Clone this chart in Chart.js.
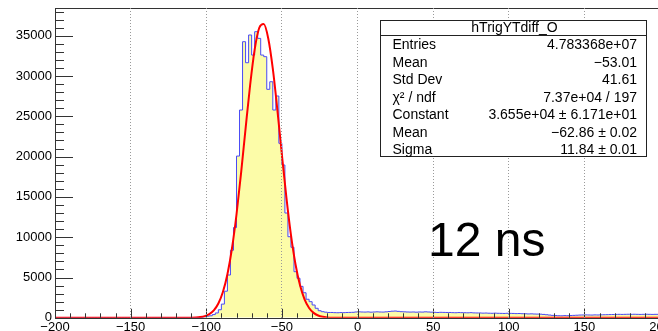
<!DOCTYPE html>
<html>
<head>
<meta charset="utf-8">
<script src="https://cdn.jsdelivr.net/npm/chart.js@4.4.1/dist/chart.umd.min.js"></script>
<style>
  html, body { margin: 0; padding: 0; background: #fff; overflow: hidden; }
  #wrap { width: 658px; height: 331px; overflow: hidden; }
</style>
</head>
<body>
<div id="wrap"><canvas id="c" width="664" height="331"></canvas></div>
<script>
// histogram hTrigYTdiff_O : 200 bins of width 2 from -200 to 200
const binLow = -200;
const binWidth = 2;
const counts = [
  // -200 .. -108
  0, 0, 0, 0, 0, 0, 0, 0, 0, 0, 0, 0, 0, 0, 0, 0, 0, 0, 0, 0,
  0, 0, 0, 0, 0, 0, 0, 0, 0, 0, 0, 0, 0, 0, 0, 0, 0, 0, 0, 0,
  0, 0, 0, 0, 0, 0, 0,
  // -106 .. -20
  30, 60, 120, 200, 250, 400, 600, 1000, 1700, 3300,
  5310, 8380, 11200, 20070, 25780, 34260, 31650, 35090, 32600, 35500,
  34670, 32600, 32400, 28350, 29290, 25780, 27520, 21650, 18960, 13000,
  10060, 8750, 5720, 4900, 3900, 3110, 2300, 2000, 1590, 1180,
  880, 760, 700, 660,
  // -18 .. 198
  660, 640, 630, 650, 640, 660, 670, 680, 720,
  740, 720, 710, 730, 700, 720, 740, 720, 710, 740,
  780, 820, 840, 800, 760, 740, 720, 710, 720, 700,
  720, 710, 740, 720, 700, 680, 660, 680, 670, 660,
  660, 640, 630, 650, 640, 630, 620, 640, 610, 600,
  600, 580, 590, 570, 560, 580, 560, 550, 540, 560,
  550, 540, 520, 530, 510, 500, 480, 490, 470, 460,
  450, 420, 380, 340, 300, 280, 260, 250, 270, 260,
  280, 300, 320, 340, 350, 360, 350, 340, 360, 350,
  370, 380, 390, 400, 410, 420, 430, 420, 430, 440,
  430, 440, 430, 420, 430, 440, 430, 420, 430, 430
];

// gaussian fit curve
const fitX = [-200, -120, -113, -110, -107, -104, -101, -98, -95, -92, -89, -86, -83, -80, -77, -74, -71, -68, -65, -62,
  -59, -56, -53, -50, -47, -44, -41, -38, -35, -32, -29, -26, -23, -20, -17, -10, 200];
const fitY = [0, 0.3, 4.6, 13, 35, 87, 204, 447, 918, 1769, 3196, 5413, 8600, 12818, 17913, 23480, 28856, 33265, 35958, 36454,
  34657, 30904, 25841, 20263, 14905, 10278, 6648, 4032, 2295, 1224, 612, 287, 126, 52, 20, 1, 0];

const xTicksMin = -200, xTicksMax = 200, xStep = 50, xMinorStep = 10;
const yMax = 38440, yStep = 5000, yMinorStep = 1000;
const yTickValues = [0, 5000, 10000, 15000, 20000, 25000, 30000, 35000];

const statsTitle = 'hTrigYTdiff_O';
const statNames = ['Entries', 'Mean', 'Std Dev', 'χ² / ndf', 'Constant', 'Mean', 'Sigma'];
const statValues = ['4.783368e+07', '−53.01', '41.61', '7.37e+04 / 197', '3.655e+04 ± 6.171e+01', '−62.86 ± 0.02', '11.84 ± 0.01'];
const noteText = '12 ns';

const FONT = "'Liberation Sans', Arial, Helvetica, sans-serif";

const histPoints = counts.map((c, i) => ({ x: binLow + i * binWidth, y: c }));
histPoints.push({ x: binLow + counts.length * binWidth, y: counts[counts.length - 1] });
const fitPoints = fitX.map((x, i) => ({ x: x, y: fitY[i] }));

// ROOT-like frame, inward ticks, stats box and text
const rootStyle = {
  id: 'rootStyle',
  afterDatasetsDraw(chart) {
    const { ctx, chartArea: a, scales: { x, y } } = chart;
    ctx.save();
    ctx.strokeStyle = '#333';
    ctx.lineWidth = 1;
    ctx.beginPath();
    for (let v = 0; v <= yMax; v += yMinorStep) {
      const py = Math.round(y.getPixelForValue(v)) + 0.5;
      const len = v % yStep === 0 ? 18 : 9;
      ctx.moveTo(a.left, py);
      ctx.lineTo(a.left + len, py);
    }
    for (let v = xTicksMin; v <= xTicksMax; v += xMinorStep) {
      const px = Math.round(x.getPixelForValue(v)) + 0.5;
      const len = v % xStep === 0 ? 9 : 4.5;
      ctx.moveTo(px, a.bottom);
      ctx.lineTo(px, a.bottom - len);
    }
    ctx.stroke();
    ctx.strokeRect(Math.round(a.left) + 0.5, Math.round(a.top) + 0.5,
      Math.round(a.right - a.left), Math.round(a.bottom - a.top));
    ctx.restore();
  },
  afterDraw(chart) {
    const { ctx } = chart;
    ctx.save();
    // stats box
    const bx = 380.5, by = 20.5, bw = 266, bh = 136;
    ctx.fillStyle = '#fff';
    ctx.fillRect(bx, by, bw, bh);
    ctx.strokeStyle = '#222';
    ctx.lineWidth = 1;
    ctx.strokeRect(bx, by, bw, bh);
    ctx.beginPath();
    ctx.moveTo(bx, 35.5);
    ctx.lineTo(bx + bw, 35.5);
    ctx.stroke();
    ctx.fillStyle = '#000';
    ctx.font = '14px ' + FONT;
    ctx.textBaseline = 'middle';
    ctx.textAlign = 'center';
    ctx.fillText(statsTitle, bx + bw / 2 + 1, 28);
    statNames.forEach((name, i) => {
      const ty = 45.5 + i * 17.5;
      ctx.textAlign = 'left';
      ctx.fillText(name, 392.5, ty);
      ctx.textAlign = 'right';
      ctx.fillText(statValues[i], 637, ty);
    });
    // annotation
    ctx.font = '48px ' + FONT;
    ctx.textAlign = 'left';
    ctx.textBaseline = 'alphabetic';
    ctx.fillText(noteText, 428, 256);
    ctx.restore();
  }
};

new Chart(document.getElementById('c'), {
  data: {
    datasets: [
      {
        type: 'line',
        label: 'gaus',
        data: fitPoints,
        borderColor: '#ff0000',
        borderWidth: 2,
        pointRadius: 0,
        fill: false,
        cubicInterpolationMode: 'monotone',
        order: 0
      },
      {
        type: 'line',
        label: statsTitle,
        data: histPoints,
        stepped: 'before',
        borderColor: '#4a4af5',
        borderWidth: 1,
        backgroundColor: '#fcfca8',
        fill: 'origin',
        pointRadius: 0,
        order: 1
      }
    ]
  },
  options: {
    responsive: false,
    animation: false,
    events: [],
    layout: { padding: { left: 0, top: 8, right: 4, bottom: 0 } },
    plugins: { legend: { display: false }, tooltip: { enabled: false } },
    scales: {
      x: {
        type: 'linear',
        min: xTicksMin,
        max: xTicksMax,
        afterFit(scale) {
          scale.height = 13.2;
          scale.paddingLeft = 0;
          scale.paddingRight = 0;
        },
        ticks: {
          stepSize: xStep,
          autoSkip: false,
          maxRotation: 0,
          padding: 2,
          color: '#000',
          font: { family: FONT, size: 13 },
          callback: v => String(v).replace('-', '−')
        },
        grid: {
          drawTicks: false,
          z: 1,
          lineWidth: 1,
          color: c => (c.tick && (c.tick.value === xTicksMin || c.tick.value === xTicksMax)) ? 'rgba(0,0,0,0)' : '#9a9a9a'
        },
        border: { display: false, dash: [1, 2] }
      },
      y: {
        type: 'linear',
        min: 0,
        max: yMax,
        afterBuildTicks(scale) {
          scale.ticks = yTickValues.map(v => ({ value: v }));
        },
        afterFit(scale) {
          scale.width = 55;
          scale.paddingTop = 0;
          scale.paddingBottom = 0;
        },
        ticks: {
          autoSkip: false,
          padding: 3,
          color: '#000',
          font: { family: FONT, size: 13 },
          callback: v => String(v)
        },
        grid: { display: false, drawTicks: false },
        border: { display: false }
      }
    }
  },
  plugins: [rootStyle]
});
</script>
</body>
</html>
